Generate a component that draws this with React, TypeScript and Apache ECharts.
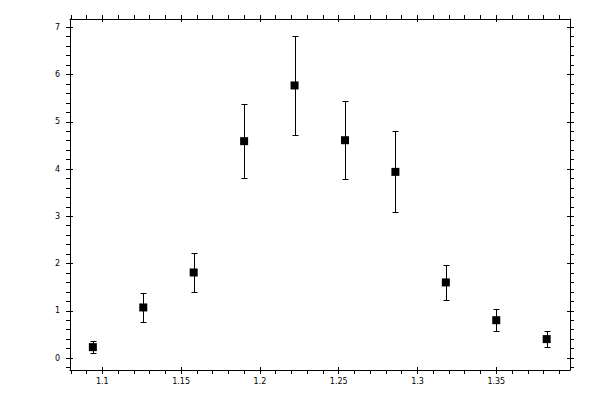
import React, { useEffect, useRef } from 'react';
import * as echarts from 'echarts';

// measured points: x position, value, symmetric error
const xValues = [1.094, 1.126, 1.158, 1.19, 1.222, 1.254, 1.286, 1.318, 1.35, 1.382];
const yValues = [0.23, 1.07, 1.81, 4.59, 5.77, 4.61, 3.94, 1.6, 0.8, 0.4];
const yErrors = [0.13, 0.3, 0.41, 0.78, 1.04, 0.83, 0.86, 0.37, 0.23, 0.17];

// axis ranges / ticks
const xFrame = [1.0795, 1.3968];
const yFrame = [-0.254, 7.176];
const xMinorTicks = { min: 1.08, max: 1.39, step: 0.01 };
const xMajorTicks = { min: 1.1, max: 1.35, step: 0.05 };
const yMinorTicks = { min: -0.2, max: 7, step: 0.2 };
const yMajorTicks = { min: 0, max: 7, step: 1 };

const BLACK = '#000';
const labelFont = { fontFamily: 'DejaVu Sans', fontSize: 8, color: BLACK };

const baseAxis = (extra: any) => ({
  type: 'value',
  splitLine: { show: false },
  axisLine: { show: false, onZero: false },
  axisLabel: { show: false },
  axisTick: { show: true, length: 4, lineStyle: { color: BLACK, width: 1 } },
  ...extra,
});

const hiddenAxis = (gridIndex: number) => ({ type: 'value', gridIndex, show: false, min: 0, max: 1 });

const frameAxis = (gridIndex: number, position: string, range: number[]) =>
  baseAxis({
    gridIndex,
    position,
    min: range[0],
    max: range[1],
    axisLine: { show: true, onZero: false, lineStyle: { color: BLACK, width: 1 } },
    axisTick: { show: false },
  });

// snap a coordinate to the middle of a pixel so 1px strokes stay crisp
const crisp = (v: number) => Math.round(v) + 0.5;

export default function App() {
  const chartRef = useRef<HTMLDivElement>(null);

  useEffect(() => {
    if (!chartRef.current) return;
    const chart = echarts.init(chartRef.current, null, { renderer: 'svg' });

    const points = xValues.map((x, i) => [x, yValues[i]]);
    const bars = xValues.map((x, i) => [x, yValues[i], yErrors[i]]);

    const fmt = (v: number) => String(+v.toFixed(2));

    chart.setOption({
      animation: false,
      backgroundColor: '#fff',
      grid: [
        // frame + data
        { left: 70, right: 30, top: 19, bottom: 30, outerBoundsMode: 'none' },
        // x minor ticks
        { left: 70.78, right: 40.7, top: 19, bottom: 30, outerBoundsMode: 'none' },
        // x major ticks
        { left: 102.3, right: 103.7, top: 19, bottom: 30, outerBoundsMode: 'none' },
        // y minor ticks
        { left: 70, right: 30, top: 27.3, bottom: 32.55, outerBoundsMode: 'none' },
        // y major ticks
        { left: 70, right: 30, top: 27.3, bottom: 42, outerBoundsMode: 'none' },
      ],
      xAxis: [
        frameAxis(0, 'bottom', xFrame),
        frameAxis(0, 'top', xFrame),
        baseAxis({ gridIndex: 1, position: 'bottom', min: xMinorTicks.min, max: xMinorTicks.max, interval: xMinorTicks.step }),
        baseAxis({ gridIndex: 1, position: 'top', min: xMinorTicks.min, max: xMinorTicks.max, interval: xMinorTicks.step }),
        baseAxis({
          gridIndex: 2,
          position: 'bottom',
          offset: -3,
          min: xMajorTicks.min,
          max: xMajorTicks.max,
          interval: xMajorTicks.step,
          axisTick: { show: true, length: 7, lineStyle: { color: BLACK, width: 1 } },
          axisLabel: { show: true, margin: 10, formatter: fmt, ...labelFont },
        }),
        baseAxis({
          gridIndex: 2,
          position: 'top',
          offset: -3,
          min: xMajorTicks.min,
          max: xMajorTicks.max,
          interval: xMajorTicks.step,
          axisTick: { show: true, length: 7, lineStyle: { color: BLACK, width: 1 } },
        }),
        hiddenAxis(3),
        hiddenAxis(4),
      ],
      yAxis: [
        frameAxis(0, 'left', yFrame),
        frameAxis(0, 'right', yFrame),
        hiddenAxis(1),
        hiddenAxis(2),
        baseAxis({ gridIndex: 3, position: 'left', min: yMinorTicks.min, max: yMinorTicks.max, interval: yMinorTicks.step }),
        baseAxis({ gridIndex: 3, position: 'right', min: yMinorTicks.min, max: yMinorTicks.max, interval: yMinorTicks.step }),
        baseAxis({
          gridIndex: 4,
          position: 'left',
          offset: -3,
          min: yMajorTicks.min,
          max: yMajorTicks.max,
          interval: yMajorTicks.step,
          axisTick: { show: true, length: 7, lineStyle: { color: BLACK, width: 1 } },
          axisLabel: { show: true, margin: 13, ...labelFont },
        }),
        baseAxis({
          gridIndex: 4,
          position: 'right',
          offset: -3,
          min: yMajorTicks.min,
          max: yMajorTicks.max,
          interval: yMajorTicks.step,
          axisTick: { show: true, length: 7, lineStyle: { color: BLACK, width: 1 } },
        }),
      ],
      series: [
        {
          type: 'custom',
          xAxisIndex: 0,
          yAxisIndex: 0,
          data: bars,
          encode: { x: 0, y: 1 },
          renderItem: (params: any, api: any) => {
            const x = api.value(0);
            const y = api.value(1);
            const e = api.value(2);
            const hi = api.coord([x, y + e]);
            const lo = api.coord([x, y - e]);
            const cx = crisp(hi[0]);
            const yTop = crisp(hi[1]);
            const yBot = crisp(lo[1]);
            const w = 3;
            const style = { stroke: BLACK, lineWidth: 1 };
            return {
              type: 'group',
              children: [
                { type: 'line', shape: { x1: cx, y1: yTop, x2: cx, y2: yBot }, style },
                { type: 'line', shape: { x1: cx - w, y1: yTop, x2: cx + w, y2: yTop }, style },
                { type: 'line', shape: { x1: cx - w, y1: yBot, x2: cx + w, y2: yBot }, style },
              ],
            };
          },
        },
        {
          type: 'scatter',
          xAxisIndex: 0,
          yAxisIndex: 0,
          data: points,
          symbol: 'rect',
          symbolSize: 8,
          itemStyle: { color: BLACK, opacity: 1 },
          z: 5,
        },
      ],
    });

    return () => {
      chart.dispose();
    };
  }, []);

  return (
    <div
      ref={chartRef}
      style={{ position: 'fixed', left: 0, top: 0, width: 600, height: 400, background: '#fff' }}
    />
  );
}
